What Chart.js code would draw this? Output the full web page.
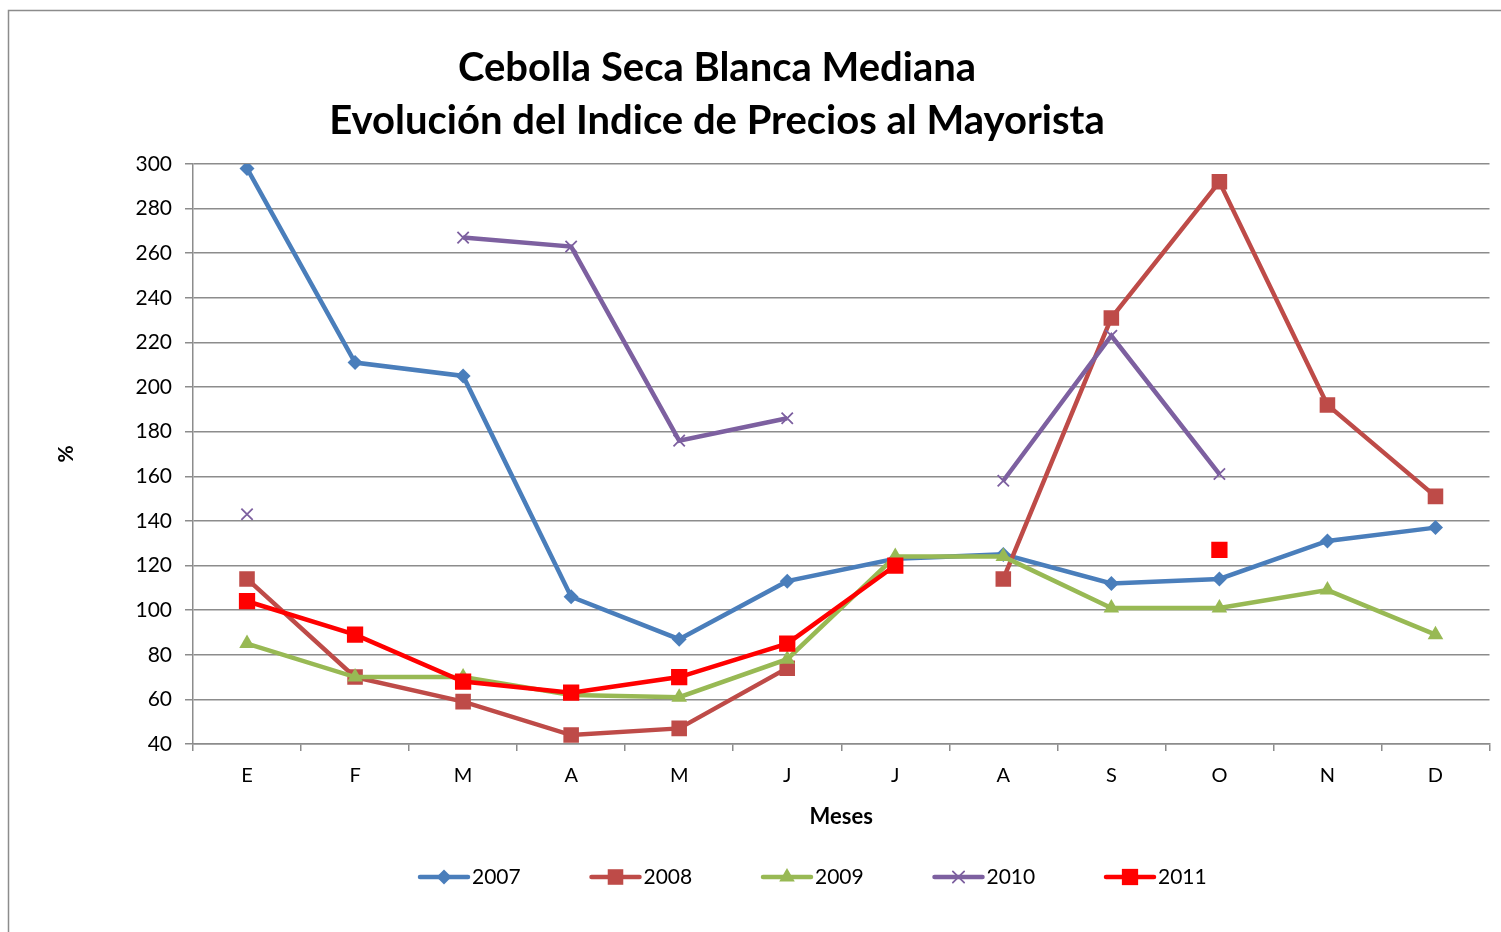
<!DOCTYPE html>
<html>
<head>
<meta charset="utf-8">
<script src="https://cdn.jsdelivr.net/npm/chart.js@4"></script>
<style>
  html, body { margin: 0; padding: 0; background: #fff; }
  #wrap { position: relative; width: 1501px; height: 932px; }
</style>
</head>
<body>
<div id="wrap"><canvas id="chart"></canvas></div>
<script>
const months = ["E", "F", "M", "A", "M", "J", "J", "A", "S", "O", "N", "D"];
const years = ["2007", "2008", "2009", "2010", "2011"];

const serie2007 = [298, 211, 205, 106, 87, 113, 123, 125, 112, 114, 131, 137];
const serie2008 = [114, 70, 59, 44, 47, 74, null, 114, 231, 292, 192, 151];
const serie2009 = [85, 70, 70, 62, 61, 78, 124, 124, 101, 101, 109, 89];
const serie2010 = [143, null, 267, 263, 176, 186, null, 158, 223, 161, null, null];
const serie2011 = [104, 89, 68, 63, 70, 85, 120, null, null, 127, null, null];

const yTicks = [40, 60, 80, 100, 120, 140, 160, 180, 200, 220, 240, 260, 280, 300];

const titleLines = ["Cebolla Seca Blanca Mediana", "Evolución del Indice de Precios al Mayorista"];

const colors = ["#4a7ebb", "#be4b48", "#98b954", "#7d60a0", "#ff0000"];
const styles = ["rectRot", "rect", "triangle", "crossRot", "rect"];
const radii = [7.5, 11, 9, 8, 11.5];

const FONT = "Lato, 'Open Sans', sans-serif";

function makeSet(i, data) {
  const isCross = styles[i] === "crossRot";
  return {
    label: years[i],
    data: data,
    borderColor: colors[i],
    backgroundColor: colors[i],
    pointBackgroundColor: colors[i],
    pointBorderColor: colors[i],
    pointStyle: styles[i],
    pointRadius: radii[i],
    pointHoverRadius: radii[i],
    pointBorderWidth: isCross ? 1.8 : 0,
    borderWidth: 4.5,
    tension: 0,
    spanGaps: false,
    order: 4 - i
  };
}

// title, legend, outer frame
const decorations = {
  id: "decorations",
  beforeDraw(chart) {
    const ctx = chart.ctx;
    ctx.save();
    ctx.strokeStyle = "#8c8c8c";
    ctx.lineWidth = 1.5;
    ctx.strokeRect(8.5, 10.5, 1600, 1000);
    ctx.restore();
  },
  afterDraw(chart) {
    const ctx = chart.ctx;
    ctx.save();
    // title
    ctx.fillStyle = "#000";
    ctx.textAlign = "center";
    ctx.textBaseline = "middle";
    ctx.font = "bold 40px " + FONT;
    ctx.fillText(titleLines[0], 717, 68);
    ctx.fillText(titleLines[1], 717, 121);

    // legend
    const startX = 420, gap = 171.5, ly = 877;
    chart.data.datasets.forEach((ds, i) => {
      const x0 = startX + i * gap;
      ctx.strokeStyle = ds.borderColor;
      ctx.lineWidth = 4.5;
      ctx.lineCap = "round";
      ctx.beginPath();
      ctx.moveTo(x0, ly);
      ctx.lineTo(x0 + 48, ly);
      ctx.stroke();
      ctx.fillStyle = ds.borderColor;
      ctx.lineWidth = ds.pointBorderWidth || 0;
      Chart.helpers.drawPoint(ctx, {
        pointStyle: ds.pointStyle,
        rotation: 0,
        radius: ds.pointRadius,
        borderWidth: ds.pointBorderWidth
      }, x0 + 24, ly);
      ctx.fillStyle = "#000";
      ctx.textAlign = "left";
      ctx.textBaseline = "middle";
      ctx.font = "21px " + FONT;
      ctx.fillText(ds.label, x0 + 52, ly);
    });
    ctx.restore();
  }
};

const ctx = document.getElementById("chart").getContext("2d");
window.myChart = new Chart(ctx, {
  type: "line",
  data: {
    labels: months,
    datasets: [
      makeSet(0, serie2007),
      makeSet(1, serie2008),
      makeSet(2, serie2009),
      makeSet(3, serie2010),
      makeSet(4, serie2011)
    ]
  },
  options: {
    responsive: true,
    maintainAspectRatio: false,
    animation: false,
    events: [],
    layout: {
      padding: { left: 50, top: 164, right: 10, bottom: 98 }
    },
    scales: {
      x: {
        offset: true,
        grid: {
          offset: true,
          drawOnChartArea: false,
          drawTicks: true,
          tickLength: 7,
          color: "#8c8c8c",
          lineWidth: 1.5
        },
        border: { color: "#8c8c8c", width: 1.5 },
        ticks: {
          color: "#000",
          font: { family: FONT, size: 20 },
          padding: 13,
          maxRotation: 0
        },
        title: {
          display: true,
          text: "Meses",
          color: "#000",
          font: { family: FONT, size: 22, weight: "bold" },
          padding: { top: 4, bottom: 4 }
        },
        afterFit(scale) { scale.height = 90; }
      },
      y: {
        min: 40,
        max: 300,
        afterBuildTicks(scale) {
          scale.ticks = yTicks.map(v => ({ value: v }));
        },
        grid: {
          color: "#8c8c8c",
          lineWidth: 1.5,
          tickLength: 8
        },
        border: { color: "#8c8c8c", width: 1.5 },
        ticks: {
          color: "#000",
          font: { family: FONT, size: 21 },
          padding: 13
        },
        title: {
          display: true,
          text: "%",
          color: "#000",
          font: { family: FONT, size: 21, weight: "bold" },
          padding: { top: 4, bottom: 4 }
        },
        afterFit(scale) { scale.width = 143; }
      }
    },
    plugins: {
      legend: { display: false },
      title: { display: false },
      tooltip: { enabled: false }
    }
  },
  plugins: [decorations]
});
</script>
</body>
</html>
